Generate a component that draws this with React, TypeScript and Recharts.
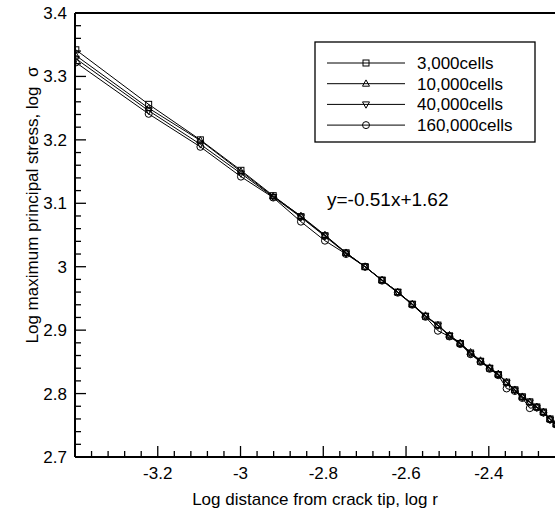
import React from 'react';
import { LineChart, Line, XAxis, YAxis, ReferenceLine } from 'recharts';

// log r (mesh nodes, evenly spaced in r)
const logR = [
  -3.398, -3.222, -3.097, -2.999, -2.921, -2.854, -2.796, -2.745, -2.699, -2.658,
  -2.62, -2.585, -2.553, -2.523, -2.495, -2.469, -2.444, -2.42, -2.398, -2.377,
  -2.357, -2.337, -2.319, -2.301, -2.284, -2.268, -2.252, -2.237, -2.222,
];

// log sigma per mesh
const cells3000 = [
  3.342, 3.256, 3.2, 3.152, 3.112, 3.079, 3.049, 3.022, 3.0, 2.979,
  2.96, 2.941, 2.922, 2.908, 2.891, 2.879, 2.864, 2.851, 2.84, 2.83,
  2.818, 2.806, 2.795, 2.787, 2.779, 2.771, 2.76, 2.752, 2.744,
];
const cells10000 = [
  3.333, 3.25, 3.199, 3.15, 3.111, 3.08, 3.05, 3.022, 3.0, 2.979,
  2.96, 2.941, 2.923, 2.908, 2.892, 2.88, 2.865, 2.852, 2.841, 2.831,
  2.818, 2.806, 2.795, 2.787, 2.779, 2.771, 2.76, 2.752, 2.744,
];
const cells40000 = [
  3.328, 3.246, 3.193, 3.147, 3.11, 3.078, 3.048, 3.021, 3.0, 2.979,
  2.96, 2.941, 2.922, 2.907, 2.891, 2.879, 2.863, 2.851, 2.84, 2.83,
  2.817, 2.805, 2.794, 2.786, 2.778, 2.77, 2.759, 2.751, 2.743,
];
const cells160000 = [
  3.322, 3.241, 3.189, 3.142, 3.109, 3.071, 3.041, 3.02, 3.0, 2.978,
  2.959, 2.94, 2.921, 2.899, 2.89, 2.878, 2.862, 2.85, 2.839, 2.829,
  2.808, 2.804, 2.793, 2.777, 2.778, 2.77, 2.759, 2.751, 2.743,
];

const xMajor = [-3.2, -3, -2.8, -2.6, -2.4];
const xMinor = [
  -3.36, -3.32, -3.28, -3.24, -3.16, -3.12, -3.08, -3.04, -2.96, -2.92, -2.88, -2.84,
  -2.76, -2.72, -2.68, -2.64, -2.56, -2.52, -2.48, -2.44, -2.36, -2.32, -2.28,
];
const yMajor = [2.7, 2.8, 2.9, 3, 3.1, 3.2, 3.3, 3.4];
const yMinor = [
  2.72, 2.74, 2.76, 2.78, 2.82, 2.84, 2.86, 2.88, 2.92, 2.94, 2.96, 2.98,
  3.02, 3.04, 3.06, 3.08, 3.12, 3.14, 3.16, 3.18, 3.22, 3.24, 3.26, 3.28,
  3.32, 3.34, 3.36, 3.38,
];

const seriesList = [
  { key: 'c3000', name: '3,000cells', values: cells3000, shape: 'square' },
  { key: 'c10000', name: '10,000cells', values: cells10000, shape: 'up' },
  { key: 'c40000', name: '40,000cells', values: cells40000, shape: 'down' },
  { key: 'c160000', name: '160,000cells', values: cells160000, shape: 'circle' },
];

const data = logR.map((x, i) => {
  const row: any = { x };
  seriesList.forEach((s) => (row[s.key] = s.values[i]));
  return row;
});

const FONT = '"Liberation Sans", Arial, sans-serif';
const AXIS_X = 75;

const Marker = ({ cx, cy, shape }: any) => {
  if (cx == null || cy == null) return null;
  const st = { fill: 'none', stroke: '#000', strokeWidth: 1 };
  if (shape === 'square') return <rect x={cx - 3} y={cy - 3} width={6} height={6} {...st} />;
  if (shape === 'up') return <polygon points={`${cx},${cy - 3.8} ${cx + 3.5},${cy + 2.5} ${cx - 3.5},${cy + 2.5}`} {...st} />;
  if (shape === 'down') return <polygon points={`${cx},${cy + 3.8} ${cx + 3.5},${cy - 2.5} ${cx - 3.5},${cy - 2.5}`} {...st} />;
  return <circle cx={cx} cy={cy} r={3.5} {...st} />;
};

const isMajor = (v: number) => Math.abs(v * 10 - Math.round(v * 10)) < 1e-6;

const YTick = ({ y, payload }: any) => {
  const v = payload.value;
  const major = isMajor(v);
  return (
    <g>
      <line x1={AXIS_X} x2={AXIS_X + (major ? 11 : 6)} y1={y} y2={y} stroke="#000" strokeWidth={1.3} />
      {major && (
        <text x={67} y={y + 6} textAnchor="end" fontSize={17} fontFamily={FONT} fill="#000">
          {String(Math.round(v * 10) / 10)}
        </text>
      )}
    </g>
  );
};

const XTick = ({ x, y, payload }: any) => {
  const v = payload.value;
  const major = isMajor(v);
  // y arrives just below the axis line
  const base = y - 2;
  return (
    <g>
      <line x1={x} x2={x} y1={base} y2={base - (major ? 11 : 6)} stroke="#000" strokeWidth={1.3} />
      {major && (
        <text x={x} y={base + 22} textAnchor="middle" fontSize={17} fontFamily={FONT} fill="#000">
          {String(Math.round(v * 10) / 10)}
        </text>
      )}
    </g>
  );
};

const LegendBox = () => (
  <svg width={222} height={102} style={{ display: 'block' }}>
    <rect x={1} y={1} width={220} height={100} fill="#fff" stroke="#000" strokeWidth={1.3} />
    {seriesList.map((s, i) => {
      const cy = 22 + i * 20.7;
      return (
        <g key={s.key}>
          <line x1={13} x2={91} y1={cy} y2={cy} stroke="#000" strokeWidth={1} />
          <Marker cx={52} cy={cy} shape={s.shape} />
          <text x={103} y={cy + 6} fontSize={17} fontFamily={FONT} fill="#000">
            {s.name}
          </text>
        </g>
      );
    })}
  </svg>
);

export default function App() {
  return (
    <div style={{ position: 'absolute', left: 0, top: 0, width: 555, height: 514, background: '#fff', overflow: 'hidden' }}>
      <LineChart width={555} height={514} data={data} margin={{ top: 13, right: 0, left: 0, bottom: 0 }}>
        <XAxis
          type="number"
          dataKey="x"
          domain={[-3.4, -2.24]}
          allowDataOverflow
          ticks={[...xMinor, ...xMajor]}
          tick={<XTick />}
          tickLine={false}
          tickSize={0}
          tickMargin={2}
          axisLine={{ stroke: '#000', strokeWidth: 2 }}
          height={57}
          interval={0}
        />
        <YAxis
          type="number"
          domain={[2.7, 3.4]}
          allowDataOverflow
          ticks={[...yMinor, ...yMajor]}
          tick={<YTick />}
          tickLine={false}
          axisLine={{ stroke: '#000', strokeWidth: 2 }}
          width={75}
          interval={0}
        />
        <ReferenceLine y={3.4} stroke="#000" strokeWidth={2} />
        {seriesList.map((s) => (
          <Line
            key={s.key}
            dataKey={s.key}
            name={s.name}
            stroke="#000"
            strokeWidth={1}
            type="linear"
            isAnimationActive={false}
            dot={(p: any) => <Marker key={`${s.key}-${p.index}`} cx={p.cx} cy={p.cy} shape={s.shape} />}
          />
        ))}
      </LineChart>
      <div style={{ position: 'absolute', left: 314, top: 41 }}>
        <LegendBox />
      </div>
      <div style={{ position: 'absolute', left: 327, top: 189, fontFamily: FONT, fontSize: 19, lineHeight: '22px', whiteSpace: 'nowrap' }}>
        y=-0.51x+1.62
      </div>
      <svg width={60} height={514} style={{ position: 'absolute', left: 0, top: 0 }}>
        <text transform="translate(38,205) rotate(-90)" textAnchor="middle" fontSize={17} fontFamily={FONT} fill="#000">
          Log maximum principal stress, log{'\u00a0\u00a0'}σ
        </text>
      </svg>
      <div style={{ position: 'absolute', left: 75, width: 480, top: 490, textAlign: 'center', fontFamily: FONT, fontSize: 17, lineHeight: '20px', whiteSpace: 'nowrap' }}>
        Log distance from crack tip, log r
      </div>
    </div>
  );
}
